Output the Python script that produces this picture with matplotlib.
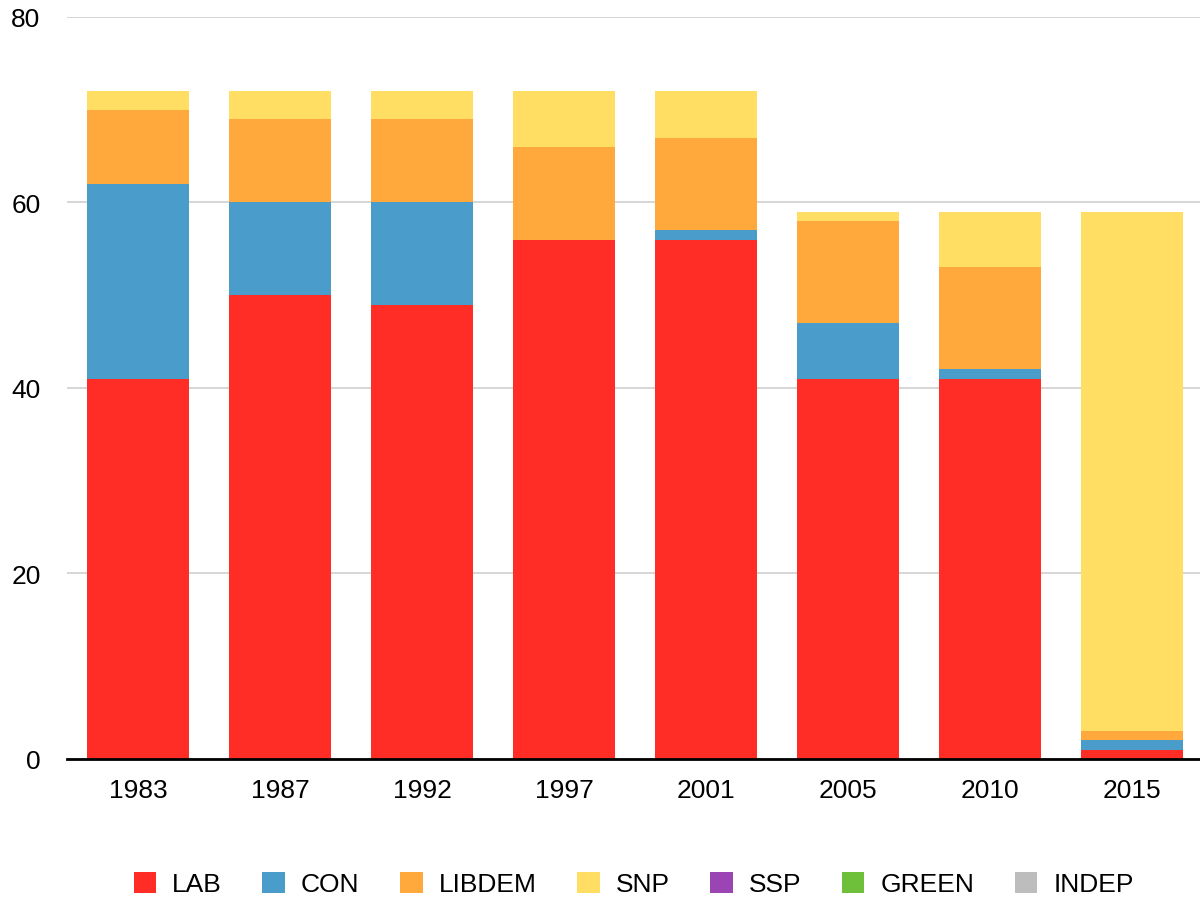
import matplotlib.pyplot as plt
import numpy as np
from matplotlib.patches import Patch

plt.rcParams['font.family'] = ['Liberation Sans', 'DejaVu Sans']

# seats per election
years = ['1983', '1987', '1992', '1997', '2001', '2005', '2010', '2015']
parties = ['LAB', 'CON', 'LIBDEM', 'SNP', 'SSP', 'GREEN', 'INDEP']
lab = [41, 50, 49, 56, 56, 41, 41, 1]
con = [21, 10, 11, 0, 1, 6, 1, 1]
libdem = [8, 9, 9, 10, 10, 11, 11, 1]
snp = [2, 3, 3, 6, 5, 1, 6, 56]
ssp = [0, 0, 0, 0, 0, 0, 0, 0]
green = [0, 0, 0, 0, 0, 0, 0, 0]
indep = [0, 0, 0, 0, 0, 0, 0, 0]
colors = ['#FF2D26', '#4A9CCA', '#FFA83B', '#FFDE63', '#9B45B5', '#6EC03A', '#BDBDBD']

series = [lab, con, libdem, snp, ssp, green, indep]

fig = plt.figure(figsize=(12, 9.04), dpi=100)
ax = fig.add_axes([0.0558, 0.1593, 0.9467, 0.8208])

x = np.arange(len(years))
bottom = np.zeros(len(years))
for vals, c in zip(series, colors):
    ax.bar(x, vals, bottom=bottom, width=0.72, color=c, zorder=2)
    bottom += np.array(vals)

ax.set_xlim(-0.5, len(years) - 0.5)
ax.set_ylim(0, 80)
ax.set_yticks([0, 20, 40, 60, 80])
ax.yaxis.grid(True, color='#D0D0D0', linewidth=1.2, zorder=0)
ax.set_xticks(x)
ax.set_xticklabels(years)
ax.tick_params(axis='both', length=0, labelsize=19)
ax.tick_params(axis='x', pad=14)
ax.tick_params(axis='y', pad=19)
for s in ['top', 'right', 'left']:
    ax.spines[s].set_visible(False)
ax.spines['bottom'].set_linewidth(2)
ax.spines['bottom'].set_zorder(3)

handles = [Patch(facecolor=c, label=p) for p, c in zip(parties, colors)]
fig.legend(handles=handles, loc='center', bbox_to_anchor=(0.528, 0.021), ncol=7,
           frameon=False, fontsize=19, handlelength=0.85, handleheight=0.85,
           handletextpad=0.6, columnspacing=1.55)

fig.savefig('out.png', dpi=100, facecolor='white')
